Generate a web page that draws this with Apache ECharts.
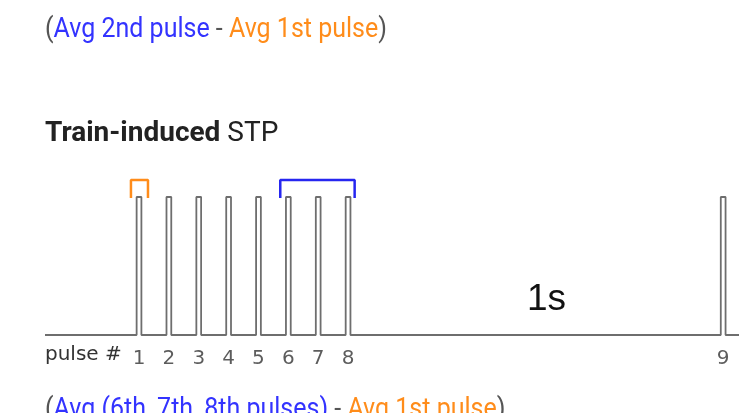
<!DOCTYPE html>
<html>
<head>
<meta charset="utf-8">
<script src="https://cdn.jsdelivr.net/npm/echarts@6/dist/echarts.min.js"></script>
<style>
  html, body { margin: 0; padding: 0; background: #fff; }
  #chart { width: 739px; height: 413px; }
</style>
</head>
<body>
<div id="chart"></div>
<script>
// pulse positions, in units of the inter-pulse interval (pulse 9 comes after a 1s gap, drawn compressed)
const pulsePos = [1, 2, 3, 4, 5, 6, 7, 8, 20.56]
const pulseLabels = ['1', '2', '3', '4', '5', '6', '7', '8', '9']
const pulseHeight = 1
const firstGroup = [1]        // orange bracket
const lateGroup = [6, 7, 8]   // blue bracket
const gapLabel = '1s'

const xMin = -2.148
const xMax = 21.09
const halfW = 0.08

const blue = '#3333ff'
const orange = '#ff8c1a'
const grey = '#6e6e6e'

// build the trace: flat baseline with narrow square pulses
let trace = [[xMin, 0]]
pulsePos.forEach(p => {
  trace.push([p - halfW, 0], [p - halfW, pulseHeight], [p + halfW, pulseHeight], [p + halfW, 0])
})
trace.push([xMax, 0])

function bracket(group, left, right) {
  const a = pulsePos[group[0] - 1] - left
  const b = pulsePos[group[group.length - 1] - 1] + right
  return [[a, 0.993], [a, 1.123], [b, 1.123], [b, 0.993]]
}

const chart = echarts.init(document.getElementById('chart'))

const capFont = { fontFamily: 'Roboto', fontSize: 25 }

chart.setOption({
  animation: false,
  grid: { left: 45, right: 0, top: 169.4, bottom: 9 },
  xAxis: { type: 'value', min: xMin, max: xMax, show: false },
  yAxis: { type: 'value', min: -0.5, max: 1.2, show: false },
  series: [
    {
      type: 'line',
      data: trace,
      symbol: 'none',
      lineStyle: { color: grey, width: 1.8 }
    },
    {
      type: 'line',
      data: bracket(firstGroup, 0.27, 0.3),
      symbol: 'none',
      lineStyle: { color: orange, width: 2.5 }
    },
    {
      type: 'line',
      data: bracket(lateGroup, 0.27, 0.22),
      symbol: 'none',
      lineStyle: { color: '#2626f0', width: 2.5 }
    },
    {
      type: 'scatter',
      symbolSize: 0,
      clip: false,
      data: pulsePos.map((p, i) => ({ value: [p, -0.17], name: pulseLabels[i] })),
      label: {
        show: true,
        position: 'inside',
        formatter: p => p.name,
        fontFamily: 'DejaVu Sans',
        fontSize: 20,
        color: '#333'
      }
    }
  ],
  graphic: [
    {
      type: 'text', left: 45, top: 17, scaleY: 1.08,
      style: {
        text: '{g|(}{b|Avg 2nd pulse}{g| - }{o|Avg 1st pulse}{g|)}',
        rich: {
          g: Object.assign({ fill: '#555' }, capFont),
          b: Object.assign({ fill: blue }, capFont),
          o: Object.assign({ fill: orange }, capFont)
        }
      }
    },
    {
      type: 'text', left: 45, top: 120,
      style: {
        text: '{bold|Train-induced}{n| STP}',
        rich: {
          bold: { fontFamily: 'Roboto', fontWeight: 'bold', fontSize: 28, fill: '#222' },
          n: { fontFamily: 'Roboto', fontSize: 28, fill: '#222' }
        }
      }
    },
    {
      type: 'text', left: 45, top: 345,
      style: { text: 'pulse #', fontFamily: 'DejaVu Sans', fontSize: 20, fill: '#333' }
    },
    {
      type: 'text', left: 527, top: 281,
      style: { text: gapLabel, fontFamily: 'Liberation Sans', fontSize: 37, fill: '#111' }
    },
    {
      type: 'text', left: 45, top: 397, scaleY: 1.08,
      style: {
        text: '{g|(}{b|Avg (6th, 7th, 8th pulses)}{g| - }{o|Avg 1st pulse}{g|)}',
        rich: {
          g: Object.assign({ fill: '#555' }, capFont),
          b: Object.assign({ fill: blue }, capFont),
          o: Object.assign({ fill: orange }, capFont)
        }
      }
    }
  ]
})
</script>
</body>
</html>
